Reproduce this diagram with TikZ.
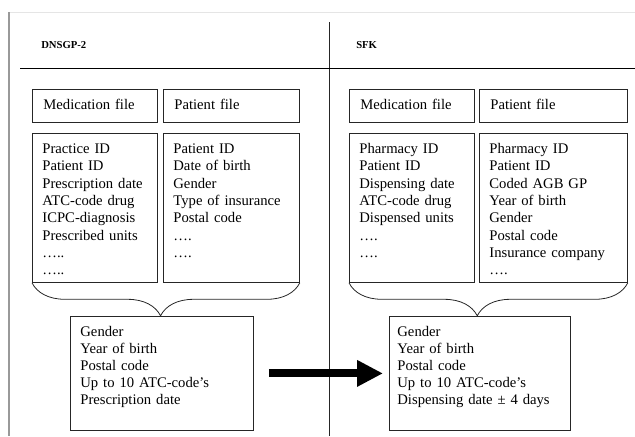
\documentclass[tikz,border=0pt]{standalone}
\usepackage{fontspec}
\setmainfont{Liberation Serif}
\usetikzlibrary{arrows.meta,decorations.pathreplacing}
\newcommand{\datafs}{\fontsize{11}{13}\selectfont}
\newcommand{\botfs}{\fontsize{11}{12.75}\selectfont}
\newcommand{\headfs}{\fontsize{8}{10}\selectfont\bfseries}
\begin{document}
\begin{tikzpicture}[x=0.75pt,y=-0.75pt,
  frame/.style={draw=black!85, line width=0.6pt, anchor=north west, align=left, inner ysep=0pt},
  filehead/.style={frame, font=\datafs, inner xsep=8.25pt, text height=15pt, text depth=9.75pt},
  filedata/.style={frame, font=\datafs, inner xsep=7.5pt, text height=15pt, text depth=96.75pt},
  linkbox/.style={frame, font=\botfs, text height=15pt, text depth=70.5pt},
  title/.style={anchor=base west, font=\headfs, inner sep=0pt},
  joinbrace/.style={draw=black!85, line width=0.6pt, decorate},
  bigarrow/.style={line width=6pt, -{Triangle[length=19.5pt, width=18.75pt]}}
]
\useasboundingbox (0,0) rectangle (635,436);
% table rules
\draw[gray!20, line width=0.5pt] (9,12) -- (635,12);
\draw[gray!80, line width=1.3pt] (9,12) -- (9,436);
\draw[black!85, line width=0.6pt] (329,22) -- (329,436);
\draw[black, line width=0.7pt] (20,68) -- (635,68);
% titles
\node[title] (tl) at (41,48.5) {DNSGP-2};
\node[title] (tr) at (356,48.5) {SFK};
% left side
\node[filehead, text width=77.25pt] (lmh) at (32,89) {Medication file};
\node[filehead, text width=85.5pt] (lph) at (163,89) {Patient file};
\node[filedata, text width=78.75pt] (lmd) at (32,133) {Practice ID\\Patient ID\\Prescription date\\ATC-code drug\\ICPC-diagnosis\\Prescribed units\\…..\\…..};
\node[filedata, text width=87pt] (lpd) at (163,133) {Patient ID\\Date of birth\\Gender\\Type of insurance\\Postal code\\….\\….};
\node[linkbox, inner xsep=7.5pt, text width=122.25pt] (lb) at (70,316) {Gender\\Year of birth\\Postal code\\Up to 10 ATC-code’s\\Prescription date};
\draw[joinbrace, decoration={brace, mirror, amplitude=24.75pt, aspect=0.48}] (lmd.south west) -- (lpd.south east);
% right side
\node[filehead, text width=77.25pt] (rmh) at (349,89) {Medication file};
\node[filehead, text width=94.5pt] (rph) at (479,89) {Patient file};
\node[filedata, text width=78.75pt] (rmd) at (349,133) {Pharmacy ID\\Patient ID\\Dispensing date\\ATC-code drug\\Dispensed units\\….\\….};
\node[filedata, text width=96pt] (rpd) at (479,133) {Pharmacy ID\\Patient ID\\Coded AGB GP\\Year of birth\\Gender\\Postal code\\Insurance company\\….};
\node[linkbox, inner xsep=6pt, text width=123.75pt] (rb) at (389,316) {Gender\\Year of birth\\Postal code\\Up to 10 ATC-code’s\\Dispensing date ± 4 days};
\draw[joinbrace, decoration={brace, mirror, amplitude=24.75pt, aspect=0.46}] (rmd.south west) -- (rpd.south east);
% linkage arrow
\draw[bigarrow, shorten <=11.25pt, shorten >=4.5pt] (lb.east) -- (rb.west);
\end{tikzpicture}
\end{document}
